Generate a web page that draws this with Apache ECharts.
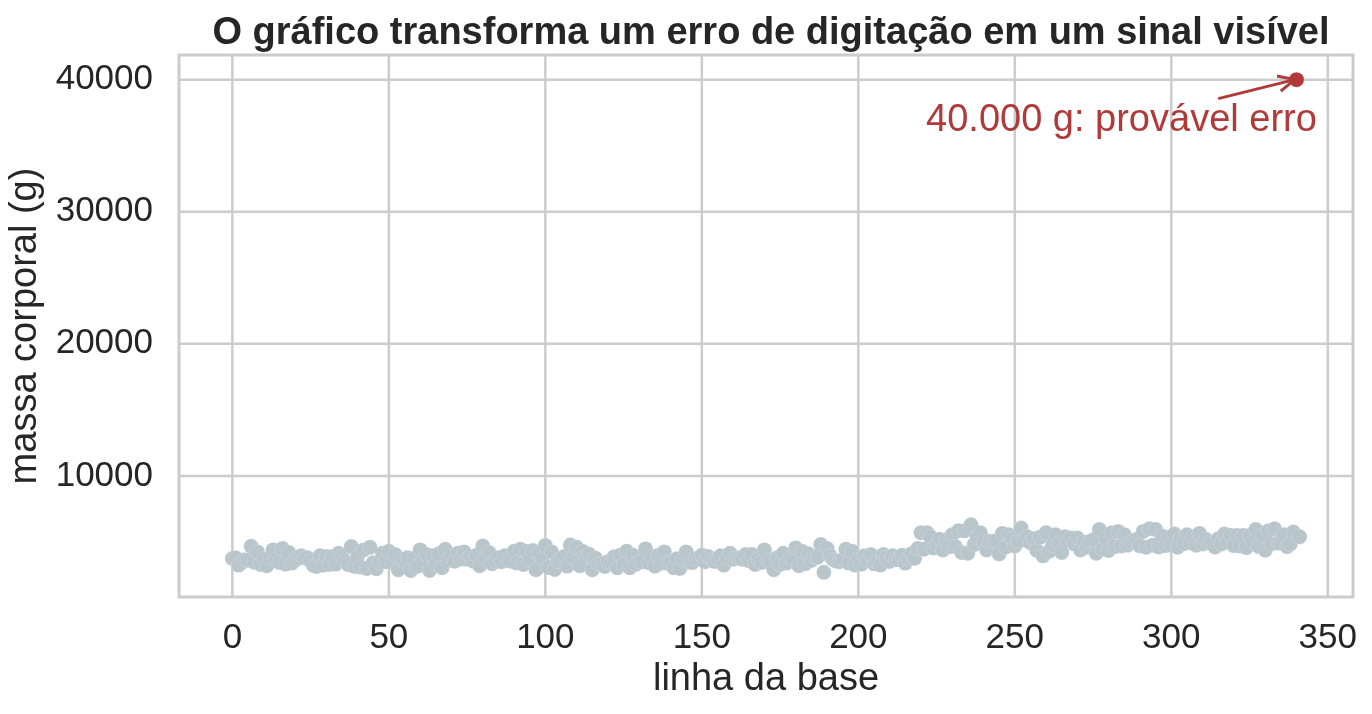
<!DOCTYPE html>
<html>
<head>
    <meta charset="UTF-8">
    <title>Massa corporal</title>
    <script src="https://cdn.jsdelivr.net/npm/echarts@6/dist/echarts.min.js"></script>
    <style>
        html, body { margin: 0; padding: 0; background: #fff; }
    </style>
</head>
<body>
    <div id="main" style="width: 1372px;height:714px;"></div>
    <script type="text/javascript">
        // massa corporal (g) por linha da base, na ordem das linhas
        var adelie = [
            3750, 3800, 3250, 3450, 3650, 3625, 4675, 3475, 4250,
            3300, 3700, 3200, 3800, 4400, 3700, 3450, 4500, 3325, 4200,
            3400, 3600, 3800, 3950, 3800, 3800, 3550, 3200, 3150, 3950,
            3250, 3900, 3300, 3900, 3325, 4150, 3950, 3550, 3300, 4650,
            3150, 3900, 3100, 4400, 3000, 4600, 3425, 2975, 3450, 4150,
            3500, 4300, 3450, 4050, 2900, 3700, 3550, 3800, 2850, 3750,
            3150, 4400, 3600, 4050, 2850, 3950, 3350, 4100, 3050, 4450,
            3600, 3900, 3550, 4150, 3700, 4250, 3700, 3900, 3550, 4000,
            3200, 4700, 3800, 4200, 3350, 3550, 3800, 3500, 3950, 3600,
            3550, 4300, 3400, 4450, 3300, 4300, 3700, 4350, 2900, 4100,
            3725, 4725, 3075, 4250, 2925, 3550, 3750, 3900, 3175, 4775,
            3825, 4600, 3200, 4275, 3900, 4075, 2900, 3775, 3350, 3325,
            3150, 3500, 3450, 3875, 3050, 4000, 3275, 4300, 3050, 4000,
            3325, 3500, 3500, 4475, 3425, 3900, 3175, 3975, 3400, 4250,
            3400, 3475, 3050, 3725, 3000, 3650, 4250, 3475, 3450, 3750,
            3700, 4000
        ];
        var chinstrap = [
            3500, 3900, 3650, 3525, 3725, 3950, 3250, 3750, 4150, 3700,
            3800, 3775, 3700, 4050, 3575, 4050, 3300, 3700, 3450, 4400,
            3600, 3400, 2900, 3800, 3300, 4150, 3400, 3800, 3700, 4550,
            3200, 4300, 3350, 4100, 3600, 3900, 3850, 4800, 2700, 4500,
            3950, 3650, 3550, 3500, 3675, 4450, 3400, 4300, 3250, 3675,
            3325, 3950, 3600, 4050, 3350, 3450, 3250, 4050, 3800, 3525,
            3950, 3650, 3650, 4000, 3400, 3775, 4100, 3775
        ];
        var gentoo = [
            4500, 5700, 4450, 5700, 5400, 4550, 4800, 5200, 4400, 5150,
            4650, 5550, 4650, 5850, 4200, 5850, 4150, 6300, 4800, 5350,
            5700, 5000, 4400, 5050, 5000, 5100, 4100, 5650, 4600, 5550,
            5250, 4700, 5050, 6050, 5150, 5400, 4950, 5250, 4350, 5350,
            3950, 5700, 4300, 4750, 5550, 4900, 4200, 5400, 5100, 5300,
            4850, 5300, 4400, 5000, 4600, 5050, 5150, 4150, 5950, 4450,
            5250, 4350, 5700, 4650, 5800, 4700, 5550, 4750, 5000, 5100,
            5200, 4700, 5800, 4600, 6000, 4750, 5950, 4625, 5450, 4725,
            5350, 4750, 5600, 4600, 5300, 4875, 5550, 4950, 5400, 4750,
            5650, 4850, 5200, 4925, 4875, 4625, 5250, 4850, 5600, 4975,
            5500, 4725, 5500, 4700, 5500, 4575, 5500, 5000, 5950, 4650,
            5500, 4375, 5850, 4875, 6000, 4925, 4900, 5550, 4650,
            4850, 5750, 40000, 5400
        ];
        var masses = adelie.concat(chinstrap, gentoo);
        var outlierValue = 40000;

        var xTicks = [0, 50, 100, 150, 200, 250, 300, 350];
        var yTicks = [10000, 20000, 30000, 40000];

        // anotação: início e fim da seta, âncora do texto (coordenadas de dados)
        var arrowFrom = [315, 38560];
        var arrowTo = [339.4, 40000];
        var noteAt = [346.5, 36900];
        var noteText = '40.000 g: provável erro';

        var normalPts = [];
        var outlierPts = [];
        masses.forEach(function (v, i) {
            if (v === outlierValue) outlierPts.push([i, v]);
            else normalPts.push([i, v]);
        });

        var FONT = '"Liberation Sans", Arial, sans-serif';
        var INK = '#262626';
        var RED = '#b03a3a';
        var GRID = '#cccccc';

        var myChart = echarts.init(document.getElementById('main'), null, { renderer: 'canvas' });

        var option = {
            backgroundColor: '#ffffff',
            animation: false,
            title: {
                text: 'O gráfico transforma um erro de digitação em um sinal visível',
                left: 766,
                textAlign: 'center',
                top: 10,
                textStyle: { fontFamily: FONT, fontWeight: 'bold', fontSize: 38, color: INK }
            },
            grid: {
                left: 179, right: 19, top: 55, bottom: 117,
                outerBoundsMode: 'none',
                containLabel: false,
                show: true, borderColor: GRID, borderWidth: 3, backgroundColor: 'transparent'
            },
            xAxis: {
                type: 'value',
                min: -17.05, max: 358.05,
                name: 'linha da base',
                nameLocation: 'middle',
                nameGap: 64,
                nameTextStyle: { fontFamily: FONT, fontSize: 38, color: INK },
                axisLine: { show: false },
                axisTick: { show: false },
                axisLabel: {
                    fontFamily: FONT, fontSize: 35, color: INK, margin: 24,
                    customValues: xTicks,
                    formatter: function (v) { return String(v); }
                },
                splitLine: { show: false }
            },
            yAxis: {
                type: 'value',
                min: 835, max: 41865,
                name: 'massa corporal (g)',
                nameLocation: 'middle',
                nameGap: 124,
                nameTextStyle: { fontFamily: FONT, fontSize: 38, color: INK },
                axisLine: { show: false },
                axisTick: { show: false },
                axisLabel: {
                    fontFamily: FONT, fontSize: 35, color: INK, margin: 26,
                    customValues: yTicks,
                    formatter: function (v) { return String(v); }
                },
                splitLine: { show: false }
            },
            series: [
                {
                    // linhas de grade nos valores dos ticks
                    type: 'custom',
                    silent: true,
                    z: 1,
                    data: [0],
                    renderItem: function (params, api) {
                        var children = [];
                        var c = params.coordSys;
                        xTicks.forEach(function (t) {
                            var p = api.coord([t, 835]);
                            children.push({ type: 'line', shape: { x1: p[0], y1: c.y, x2: p[0], y2: c.y + c.height },
                                style: { stroke: GRID, lineWidth: 2.5 } });
                        });
                        yTicks.forEach(function (t) {
                            var p = api.coord([0, t]);
                            children.push({ type: 'line', shape: { x1: c.x, y1: p[1], x2: c.x + c.width, y2: p[1] },
                                style: { stroke: GRID, lineWidth: 2.5 } });
                        });
                        return { type: 'group', children: children };
                    }
                },
                {
                    type: 'scatter',
                    z: 3,
                    data: normalPts,
                    symbolSize: 15,
                    itemStyle: { color: '#b8c5cb', opacity: 1, borderColor: 'rgba(255,255,255,0.6)', borderWidth: 0.3 }
                },
                {
                    type: 'scatter',
                    z: 4,
                    data: outlierPts,
                    symbolSize: 15,
                    itemStyle: { color: RED, opacity: 1, borderColor: 'rgba(255,255,255,0.6)', borderWidth: 0.3 }
                },
                {
                    type: 'custom',
                    z: 5,
                    silent: true,
                    clip: false,
                    data: [[arrowFrom[0], arrowFrom[1], arrowTo[0], arrowTo[1], noteAt[0], noteAt[1]]],
                    encode: { x: [0, 2], y: [1, 3] },
                    renderItem: function (params, api) {
                        var a = api.coord([api.value(0), api.value(1)]);
                        var b = api.coord([api.value(2), api.value(3)]);
                        var t = api.coord([api.value(4), api.value(5)]);
                        var ang = Math.atan2(b[1] - a[1], b[0] - a[0]);
                        var L = 18, w = 0.45;
                        var h1 = [b[0] - L * Math.cos(ang - w), b[1] - L * Math.sin(ang - w)];
                        var h2 = [b[0] - L * Math.cos(ang + w), b[1] - L * Math.sin(ang + w)];
                        return {
                            type: 'group',
                            children: [
                                { type: 'line', shape: { x1: a[0], y1: a[1], x2: b[0], y2: b[1] },
                                  style: { stroke: RED, lineWidth: 3 } },
                                { type: 'polyline', shape: { points: [h1, b, h2] },
                                  style: { stroke: RED, lineWidth: 3, fill: null } },
                                { type: 'text', x: t[0], y: t[1],
                                  style: { text: noteText, align: 'right', verticalAlign: 'middle',
                                           fill: RED, font: '38px ' + FONT } }
                            ]
                        };
                    }
                }
            ]
        };
        myChart.setOption(option);
    </script>
</body>
</html>
